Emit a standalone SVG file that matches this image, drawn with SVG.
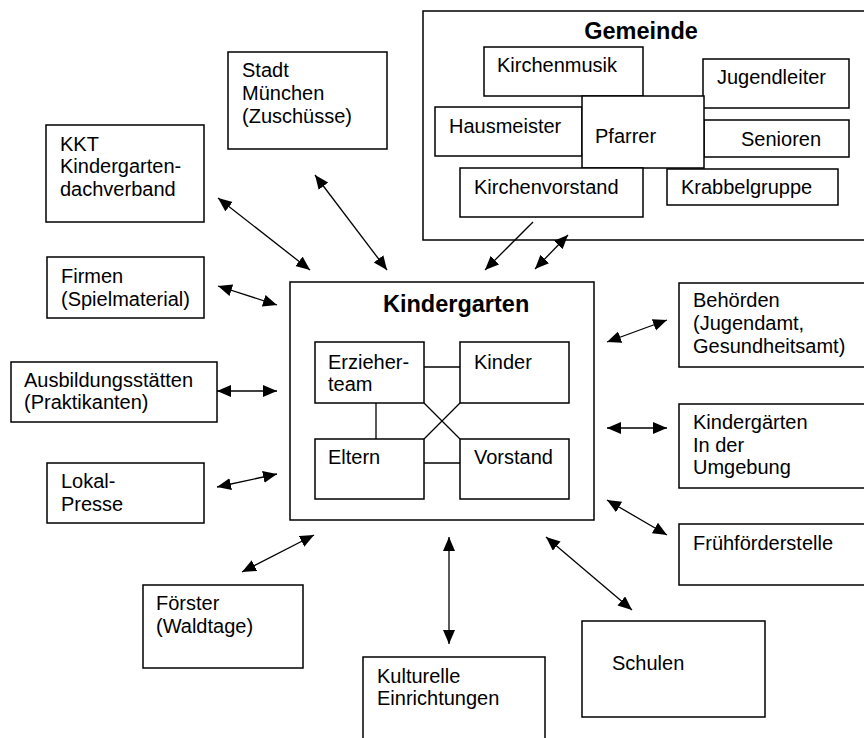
<svg xmlns="http://www.w3.org/2000/svg" width="864" height="738" viewBox="0 0 864 738">
<style>
.box{fill:#fff;stroke:#000;stroke-width:1.5}
.t{font-family:"Liberation Sans",Arial,sans-serif;font-size:20px;fill:#000}
.b{font-family:"Liberation Sans",Arial,sans-serif;font-size:23.5px;font-weight:bold;fill:#000}
.c{stroke:#000;stroke-width:1.3;fill:none}
.a2{marker-start:url(#ah);marker-end:url(#ah)}
.a1{marker-end:url(#ah)}
</style>
<defs>
<marker id="ah" markerUnits="userSpaceOnUse" markerWidth="16" markerHeight="13" refX="14" refY="6" orient="auto-start-reverse" viewBox="0 0 16 13">
<path d="M0,0 L14,6 L0,12 z" fill="#000"/>
</marker>
</defs>
<rect width="864" height="738" fill="#fff"/>

<g id="gemeinde">
<rect class="box" x="423" y="11" width="460" height="229"/>
<text class="b" x="641" y="39" text-anchor="middle">Gemeinde</text>
<g id="kirchenmusik"><rect class="box" x="484" y="47" width="159" height="49"/><text class="t" x="497" y="72">Kirchenmusik</text></g>
<g id="jugendleiter"><rect class="box" x="703" y="59" width="146" height="49"/><text class="t" x="717" y="84">Jugendleiter</text></g>
<g id="hausmeister"><rect class="box" x="435" y="107" width="147" height="49"/><text class="t" x="449" y="133">Hausmeister</text></g>
<g id="senioren"><rect class="box" x="704" y="120" width="145" height="37"/><text class="t" x="741" y="146">Senioren</text></g>
<g id="pfarrer"><rect class="box" x="582" y="96" width="122" height="72"/><text class="t" x="595" y="143">Pfarrer</text></g>
<g id="kirchenvorstand"><rect class="box" x="460" y="168" width="183" height="49"/><text class="t" x="474" y="194">Kirchenvorstand</text></g>
<g id="krabbelgruppe"><rect class="box" x="667" y="169" width="171" height="36"/><text class="t" x="681" y="194">Krabbelgruppe</text></g>
</g>

<g id="stadt"><rect class="box" x="228" y="52" width="159" height="97"/>
<text class="t" x="242" y="77">Stadt</text><text class="t" x="242" y="100">München</text><text class="t" x="242" y="123">(Zuschüsse)</text></g>

<g id="kkt"><rect class="box" x="46" y="125" width="158" height="97"/>
<text class="t" x="60" y="151">KKT</text><text class="t" x="60" y="173">Kindergarten-</text><text class="t" x="60" y="196">dachverband</text></g>

<g id="firmen"><rect class="box" x="47" y="257" width="157" height="61"/>
<text class="t" x="61" y="283">Firmen</text><text class="t" x="61" y="306">(Spielmaterial)</text></g>

<g id="ausbildung"><rect class="box" x="11" y="362" width="206" height="60"/>
<text class="t" x="24" y="387">Ausbildungsstätten</text><text class="t" x="24" y="409">(Praktikanten)</text></g>

<g id="lokalpresse"><rect class="box" x="47" y="463" width="157" height="60"/>
<text class="t" x="61" y="488">Lokal-</text><text class="t" x="61" y="511">Presse</text></g>

<g id="foerster"><rect class="box" x="143" y="585" width="160" height="83"/>
<text class="t" x="156" y="610">Förster</text><text class="t" x="156" y="633">(Waldtage)</text></g>

<g id="kulturelle"><rect class="box" x="363" y="657" width="182" height="100"/>
<text class="t" x="377" y="683">Kulturelle</text><text class="t" x="377" y="705">Einrichtungen</text></g>

<g id="schulen"><rect class="box" x="582" y="621" width="183" height="96"/>
<text class="t" x="612" y="670">Schulen</text></g>

<g id="behoerden"><rect class="box" x="679" y="283" width="210" height="84"/>
<text class="t" x="693" y="307">Behörden</text><text class="t" x="693" y="330">(Jugendamt,</text><text class="t" x="693" y="353">Gesundheitsamt)</text></g>

<g id="kindergaerten"><rect class="box" x="679" y="404" width="210" height="84"/>
<text class="t" x="693" y="429">Kindergärten</text><text class="t" x="693" y="452">In der</text><text class="t" x="693" y="474">Umgebung</text></g>

<g id="fruehfoerder"><rect class="box" x="679" y="524" width="210" height="61"/>
<text class="t" x="693" y="550">Frühförderstelle</text></g>

<g id="kindergarten">
<rect class="box" x="290" y="282" width="304" height="238"/>
<text class="b" x="383" y="312">Kindergarten</text>
<g id="erzieherteam"><rect class="box" x="315" y="342" width="109" height="61"/><text class="t" x="328" y="369">Erzieher-</text><text class="t" x="328" y="391">team</text></g>
<g id="kinder"><rect class="box" x="460" y="342" width="109" height="61"/><text class="t" x="474" y="369">Kinder</text></g>
<g id="eltern"><rect class="box" x="315" y="439" width="109" height="60"/><text class="t" x="328" y="464">Eltern</text></g>
<g id="vorstand"><rect class="box" x="460" y="439" width="109" height="60"/><text class="t" x="474" y="464">Vorstand</text></g>
</g>

<g id="connectors">
<line class="c" x1="424" y1="367" x2="460" y2="367"/>
<line class="c" x1="424" y1="463" x2="460" y2="463"/>
<line class="c" x1="376" y1="403" x2="376" y2="439"/>
<line class="c" x1="424" y1="403" x2="460" y2="439"/>
<line class="c" x1="460" y1="403" x2="424" y2="439"/>

<line class="c a2" x1="218" y1="198" x2="310" y2="270"/>
<line class="c a2" x1="315" y1="175" x2="387" y2="270"/>
<line class="c a1" x1="533" y1="222" x2="485" y2="270"/>
<line class="c a2" x1="535" y1="269" x2="568" y2="235"/>
<line class="c a2" x1="218" y1="286" x2="277" y2="305"/>
<line class="c a2" x1="217" y1="391" x2="277" y2="391"/>
<line class="c a2" x1="217" y1="487" x2="277" y2="474"/>
<line class="c a2" x1="242" y1="572" x2="314" y2="535"/>
<line class="c a2" x1="449" y1="537" x2="449" y2="644"/>
<line class="c a2" x1="546" y1="537" x2="632" y2="610"/>
<line class="c a2" x1="607" y1="500" x2="667" y2="535"/>
<line class="c a2" x1="607" y1="428" x2="667" y2="428"/>
<line class="c a2" x1="607" y1="342" x2="667" y2="320"/>
</g>
</svg>
